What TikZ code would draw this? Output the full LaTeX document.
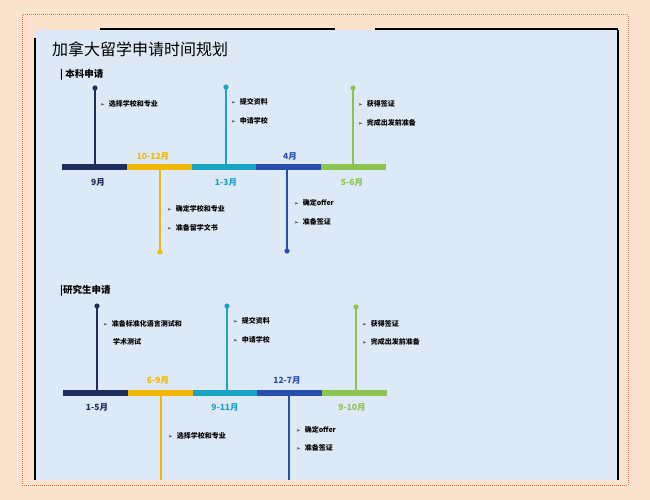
\documentclass[tikz,border=0pt]{standalone}
\usepackage{fontspec}
\setmainfont{Noto Sans CJK SC}
\newfontfamily\dv{DejaVu Sans}
\definecolor{cnavy}{HTML}{1F2D5C}
\definecolor{cgold}{HTML}{F2B705}
\definecolor{cteal}{HTML}{1BA3C6}
\definecolor{cblue}{HTML}{2A4DB0}
\definecolor{cgreen}{HTML}{8DC450}
\definecolor{cpanel}{HTML}{DDE9F6}
\definecolor{cpeach}{HTML}{FCE3CE}
\definecolor{cdot}{HTML}{E8704A}
\begin{document}
\begin{tikzpicture}[x=1pt,y=-1pt,
  item/.style={anchor=west,font=\fontsize{7}{8}\selectfont\bfseries,inner sep=0},
  mlab/.style={font=\fontsize{8.5}{9}\selectfont\bfseries,inner sep=0},
  bar/.style={line width=6pt},
  stem/.style={line width=2pt}]
\useasboundingbox (0,0) rectangle (650,500);
\fill[cpeach] (0,0) rectangle (650,500);
\draw[cdot,densely dotted,line width=1pt] (22,15) rectangle (628,485);
\fill[cpanel] (35,30) rectangle (618,480);
\draw[black,line width=1.5pt] (35,38) -- (35,480);
\draw[black,line width=1.5pt] (618,30) -- (618,480);
\draw[black,line width=1.2pt] (100,29) -- (335,29);
\draw[black,line width=1.2pt] (375,29) -- (618,29);
\node[anchor=west,font=\fontsize{16}{17}\selectfont,inner sep=0] (title) at (52,49) {加拿大留学申请时间规划};
\node[anchor=west,font=\fontsize{9.5}{10}\selectfont\bfseries,inner sep=0] (s1) at (60,75) {| 本科申请};
\node[anchor=west,font=\fontsize{9.5}{10}\selectfont\bfseries,inner sep=0] (s2) at (60,291) {|研究生申请};
\newcommand\bl{{\dv\fontsize{5.5}{6}\selectfont ➢}\hspace{4pt}}
% timeline 1
\def\ty{167}
\coordinate (a0) at (62,\ty); \coordinate (a1) at (127,\ty); \coordinate (a2) at (192,\ty);
\coordinate (a3) at (256,\ty); \coordinate (a4) at (321,\ty); \coordinate (a5) at (386,\ty);
\draw[bar,cnavy] (a0)--(a1); \draw[bar,cgold] (a1)--(a2); \draw[bar,cteal] (a2)--(a3);
\draw[bar,cblue] (a3)--(a4); \draw[bar,cgreen] (a4)--(a5);
\coordinate (p1) at (95,88); \coordinate (p2) at (226,87); \coordinate (p3) at (353,88);
\coordinate (q1) at (160,252); \coordinate (q2) at (287,251);
\foreach \p/\c in {p1/cnavy,p2/cteal,p3/cgreen,q1/cgold,q2/cblue}{
  \draw[stem,\c] (\p) -- (\p|-a0); \fill[\c] (\p) circle (2.6);}
\node[item] (t11) at (100,104) {\bl 选择学校和专业};
\node[item] (t21) at (231,102) {\bl 提交资料};
\node[item] (t22) at (231,121) {\bl 申请学校};
\node[item] (t31) at (358,104) {\bl 获得签证};
\node[item] (t32) at (358,123) {\bl 完成出发前准备};
\node[item] (t41) at (167,209) {\bl 确定学校和专业};
\node[item] (t42) at (167,228) {\bl 准备留学文书};
\node[item] (t51) at (294,203) {\bl 确定offer};
\node[item] (t52) at (294,222) {\bl 准备签证};
\node[mlab,cnavy] (m1) at (98,182) {9月};
\node[mlab,cgold] (m2) at (153,156) {10-12月};
\node[mlab,cteal] (m3) at (226,182) {1-3月};
\node[mlab,cblue] (m4) at (290,156) {4月};
\node[mlab,cgreen] (m5) at (352,182) {5-6月};
% timeline 2
\def\ty{393}
\coordinate (b0) at (63,\ty); \coordinate (b1) at (128,\ty); \coordinate (b2) at (193,\ty);
\coordinate (b3) at (257,\ty); \coordinate (b4) at (322,\ty); \coordinate (b5) at (387,\ty);
\draw[bar,cnavy] (b0)--(b1); \draw[bar,cgold] (b1)--(b2); \draw[bar,cteal] (b2)--(b3);
\draw[bar,cblue] (b3)--(b4); \draw[bar,cgreen] (b4)--(b5);
\coordinate (r1) at (97,306); \coordinate (r2) at (227,306); \coordinate (r3) at (356,307);
\coordinate (u1) at (161,480); \coordinate (u2) at (289,480);
\foreach \p/\c in {r1/cnavy,r2/cteal,r3/cgreen}{
  \draw[stem,\c] (\p) -- (\p|-b0); \fill[\c] (\p) circle (2.6);}
\foreach \p/\c in {u1/cgold,u2/cblue}{\draw[stem,\c] (\p) -- (\p|-b0);}
\node[item] (v11) at (103,324) {\bl 准备标准化语言测试和};
\node[item] (v12) at (113,342) {学术测试};
\node[item] (v21) at (233,321) {\bl 提交资料};
\node[item] (v22) at (233,340) {\bl 申请学校};
\node[item] (v31) at (362,324) {\bl 获得签证};
\node[item] (v32) at (362,342) {\bl 完成出发前准备};
\node[item] (v41) at (168,436) {\bl 选择学校和专业};
\node[item] (v51) at (296,430) {\bl 确定offer};
\node[item] (v52) at (296,448) {\bl 准备签证};
\node[mlab,cnavy] (n1) at (97,407) {1-5月};
\node[mlab,cgold] (n2) at (158,380) {6-9月};
\node[mlab,cteal] (n3) at (225,407) {9-11月};
\node[mlab,cblue] (n4) at (287,380) {12-7月};
\node[mlab,cgreen] (n5) at (352,407) {9-10月};
\end{tikzpicture}
\end{document}
